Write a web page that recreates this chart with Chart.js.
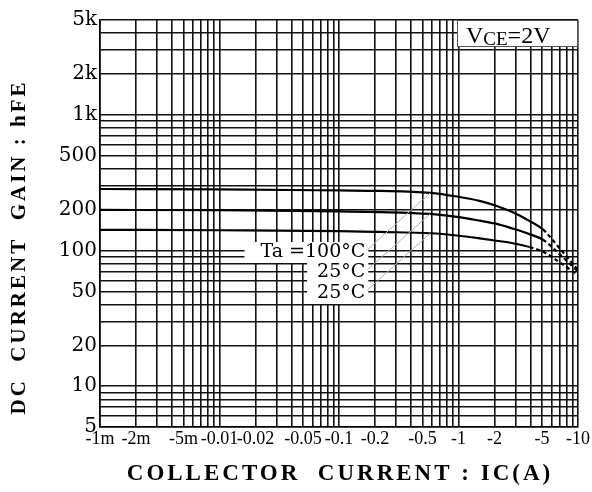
<!DOCTYPE html>
<html>
<head>
<meta charset="utf-8">
<script src="https://cdn.jsdelivr.net/npm/chart.js@4/dist/chart.umd.min.js"></script>
<style>
  html, body { margin: 0; padding: 0; background: #fff; }
</style>
</head>
<body>
<canvas id="myChart" width="592" height="492"></canvas>
<script>
// collector current |Ic| (A) and hFE
const currents = [0.001, 0.01, 0.1, 0.22, 0.58, 0.97, 1.5, 2.09, 2.85, 3.93, 5.09, 7, 10];
const gain100 = [284, 282, 277, 275, 266, 250, 232, 213, 191, 165, 143, 104, 72];
const gain25 = [199, 198, 194, 192, 186, 177, 166, 157, 145, 132, 120, 94, 70];
const gainM25 = [142, 141, 139, 137, 134, 129, 123, 118, 113, 106, 98, 82, 66];
const dashFrom = [10, 10, 9];

const xTickVals = [0.001, 0.002, 0.005, 0.01, 0.02, 0.05, 0.1, 0.2, 0.5, 1, 2, 5, 10];
const xTickText = ["-1m", "-2m", "-5m", "-0.01", "-0.02", "-0.05", "-0.1", "-0.2", "-0.5", "-1", "-2", "-5", "-10"];
const yTickVals = [5, 10, 20, 50, 100, 200, 500, 1000, 2000, 5000];
const yTickText = ["5", "10", "20", "50", "100", "200", "500", "1k", "2k", "5k"];

const curveLabels = ["Ta =100°C", "25°C", "25°C"];
const labelAt = [[0.166, 97.5], [0.166, 69.5], [0.166, 48.6]];
const leaderFrom = [[0.172, 101], [0.172, 72], [0.172, 51]];
const leaderTo = [[0.58, 266], [0.58, 186], [0.58, 134]];

const logGrid = (lo, hi) => {
  const out = [];
  for (let e = lo; e < hi; e++) {
    for (let k = 1; k < 10; k++) out.push(+(k * Math.pow(10, e)).toPrecision(3));
  }
  out.push(Math.pow(10, hi));
  return out;
};
const xGrid = logGrid(-3, 1);
const yGrid = logGrid(0, 4).filter(v => v >= 5 && v <= 5000);

const findLabel = (vals, texts, v) => {
  const i = vals.findIndex(t => Math.abs(t - v) / t < 1e-6);
  return i < 0 ? "" : texts[i];
};

const makeSet = (data, i) => ({
  data: currents.map((c, j) => ({ x: c, y: data[j] })),
  borderColor: "#000",
  borderWidth: 2.2,
  pointRadius: 0,
  fill: false,
  cubicInterpolationMode: "monotone",
  segment: {
    borderDash: c => (c.p0DataIndex >= dashFrom[i] ? [4, 3] : undefined)
  }
});

const extras = {
  id: "extras",
  afterDraw(chart) {
    const { ctx, chartArea: a, scales: { x, y } } = chart;
    ctx.save();

    // white patches behind curve labels
    ctx.font = '19px "DejaVu Serif"';
    curveLabels.forEach((t, i) => {
      const px = x.getPixelForValue(labelAt[i][0]);
      const py = y.getPixelForValue(labelAt[i][1]);
      const w = ctx.measureText(t).width;
      ctx.fillStyle = "#fff";
      ctx.fillRect(px - w - (i ? 10 : 16), py - 10, w + (i ? 13 : 19), 21);
    });

    // leader lines
    ctx.strokeStyle = "#b0b0b0";
    ctx.lineWidth = 1;
    leaderFrom.forEach((p, i) => {
      ctx.beginPath();
      ctx.moveTo(x.getPixelForValue(p[0]), y.getPixelForValue(p[1]));
      ctx.lineTo(x.getPixelForValue(leaderTo[i][0]), y.getPixelForValue(leaderTo[i][1]));
      ctx.stroke();
    });

    ctx.fillStyle = "#000";
    ctx.textAlign = "right";
    ctx.textBaseline = "middle";
    curveLabels.forEach((t, i) => {
      ctx.fillText(t, x.getPixelForValue(labelAt[i][0]), y.getPixelForValue(labelAt[i][1]));
    });

    // VCE box
    const bw = 121, bh = 27;
    const bx = a.right - bw, by = a.top;
    ctx.fillStyle = "#fff";
    ctx.fillRect(bx, by, bw, bh);
    ctx.strokeStyle = "#555";
    ctx.strokeRect(bx + 0.5, by + 0.5, bw - 1, bh - 1);
    ctx.fillStyle = "#000";
    ctx.textAlign = "left";
    ctx.textBaseline = "alphabetic";
    let tx = bx + 9;
    ctx.font = '24px "Liberation Serif"';
    ctx.fillText("V", tx, by + 23);
    tx += ctx.measureText("V").width;
    ctx.font = '19px "Liberation Serif"';
    ctx.fillText("CE", tx, by + 25);
    tx += ctx.measureText("CE").width;
    ctx.font = '24px "Liberation Serif"';
    ctx.fillText("=2V", tx, by + 23);

    // axis titles
    ctx.font = 'bold 23px "Liberation Serif"';
    ctx.letterSpacing = "3px";
    ctx.textAlign = "center";
    ctx.textBaseline = "middle";
    ctx.fillText("COLLECTOR  CURRENT : IC(A)", (a.left + a.right) / 2 + 1, 474);
    ctx.translate(20, 247);
    ctx.rotate(-Math.PI / 2);
    ctx.font = 'bold 21px "Liberation Serif"';
    ctx.letterSpacing = "3px";
    ctx.fillText("DC  CURRENT  GAIN : hFE", 0, 0);
    ctx.restore();
  }
};

const ctx = document.getElementById("myChart").getContext("2d");
const myChart = new Chart(ctx, {
  type: "line",
  data: {
    datasets: [makeSet(gain100, 0), makeSet(gain25, 1), makeSet(gainM25, 2)]
  },
  options: {
    responsive: false,
    animation: false,
    layout: { padding: { top: 20, right: 14, left: 0, bottom: 0 } },
    plugins: { legend: { display: false }, tooltip: { enabled: false } },
    scales: {
      x: {
        type: "logarithmic",
        min: 0.001,
        max: 10,
        afterBuildTicks: s => { s.ticks = xGrid.map(v => ({ value: v })); },
        afterFit: s => { s.height = 65; s.paddingLeft = 0; s.paddingRight = 0; },
        grid: { color: "#111", lineWidth: 1.6, drawTicks: false },
        border: { color: "#000", width: 1.6 },
        ticks: {
          autoSkip: false,
          maxRotation: 0,
          padding: 1,
          color: "#000",
          font: { family: "Liberation Serif", size: 18 },
          callback: v => findLabel(xTickVals, xTickText, v)
        }
      },
      y: {
        type: "logarithmic",
        min: 5,
        max: 5000,
        afterBuildTicks: s => { s.ticks = yGrid.map(v => ({ value: v })); },
        afterFit: s => { s.width = 100; s.paddingTop = 0; s.paddingBottom = 0; },
        grid: { color: "#111", lineWidth: 1.6, drawTicks: false },
        border: { color: "#000", width: 1.6 },
        ticks: {
          autoSkip: false,
          padding: 3,
          color: "#000",
          font: { family: "DejaVu Serif", size: 20 },
          callback: v => findLabel(yTickVals, yTickText, v)
        }
      }
    }
  },
  plugins: [extras]
});
</script>
</body>
</html>
